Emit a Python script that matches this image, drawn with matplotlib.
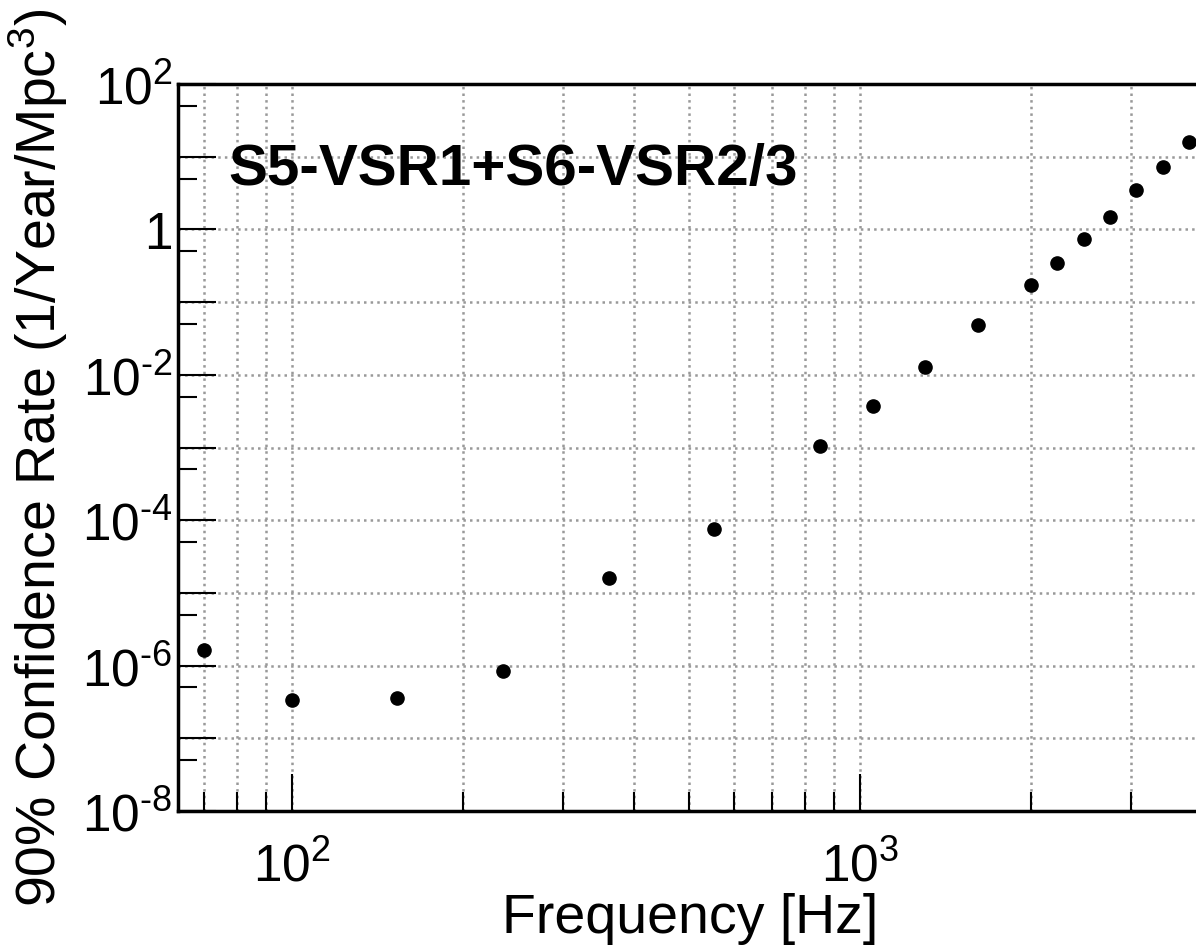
import numpy as np
import matplotlib.pyplot as plt
from matplotlib.ticker import FixedLocator, FuncFormatter, LogLocator

plt.rcParams['font.family'] = ['Liberation Sans', 'DejaVu Sans']
plt.rcParams['mathtext.fontset'] = 'custom'
plt.rcParams['mathtext.rm'] = 'Liberation Sans'
plt.rcParams['mathtext.it'] = 'Liberation Sans'

# Дані (частота sine-Gaussian, верхня межа частоти подій)
freq = [70, 100, 153, 235, 361, 554, 849, 1053, 1304, 1615,
        2000, 2226, 2477, 2756, 3067, 3413, 3799]
rate = [1.64e-6, 3.4e-7, 3.6e-7, 8.4e-7, 1.6e-5, 7.6e-5, 1.05e-3, 3.7e-3,
        1.28e-2, 4.8e-2, 0.172, 0.345, 0.74, 1.48, 3.5, 7.2, 15.9]

x_label = 'Frequency [Hz]'
y_label = '90% Confidence Rate (1/Year/Mpc$^{3}$)'
tag = 'S5-VSR1+S6-VSR2/3'

fig = plt.figure(figsize=(11.96, 9.53), dpi=100)
x0, x1 = 63, 5000
w = (np.log10(x1) - np.log10(x0)) * 568 / 1196
ax = fig.add_axes([178 / 1196, 141 / 953, w, 727 / 953])

ax.plot(freq, rate, 'o', color='black', markersize=9.5, zorder=3)

ax.set_xscale('log')
ax.set_yscale('log')
ax.set_xlim(x0, x1)
ax.set_ylim(1e-8, 1e2)

# Осі Y: великі поділки на кожній декаді, підписи через одну
ax.yaxis.set_major_locator(FixedLocator([10.0 ** k for k in range(-8, 3)]))
ax.yaxis.set_minor_locator(FixedLocator([5 * 10.0 ** k for k in range(-9, 2)]))


def yfmt(v, pos):
    k = int(round(np.log10(v)))
    if k % 2:
        return ''
    if k == 0:
        return '1'
    if k < 0:
        return '$10^{\\text{-}%d}$' % (-k)
    return '$10^{%d}$' % k


ax.yaxis.set_major_formatter(FuncFormatter(yfmt))
ax.xaxis.set_major_locator(LogLocator(base=10))
ax.xaxis.set_minor_locator(LogLocator(base=10, subs=np.arange(2, 10)))
ax.xaxis.set_major_formatter(FuncFormatter(lambda v, p: '$10^{%d}$' % round(np.log10(v))))
ax.xaxis.set_minor_formatter(FuncFormatter(lambda v, p: ''))

ax.tick_params(which='both', direction='in', width=1.5, labelsize=37, color='black')
ax.tick_params(which='major', length=27)
ax.tick_params(which='minor', length=14)
ax.tick_params(axis='x', pad=22)
ax.tick_params(axis='y', pad=4)

ax.grid(True, which='major', axis='y', linestyle=':', color='#999999', linewidth=1.8)
ax.grid(True, which='both', axis='x', linestyle=':', color='#999999', linewidth=1.8)

for s in ['left', 'bottom', 'top']:
    ax.spines[s].set_linewidth(2.5)
ax.spines['right'].set_visible(False)

ax.set_xlabel(x_label, fontsize=40)
ax.xaxis.set_label_coords(690 / 1196, 8 / 953, transform=fig.transFigure)
ax.xaxis.label.set_va('bottom')
ax.set_ylabel(y_label, fontsize=40)
ax.yaxis.set_label_coords(6 / 1196, 495 / 953, transform=fig.transFigure)
ax.yaxis.label.set_va('top')

ax.text(228, 953 - 185, tag, transform=None, fontsize=42, fontweight='bold', va='baseline')

fig.savefig('out.png', dpi=100)
